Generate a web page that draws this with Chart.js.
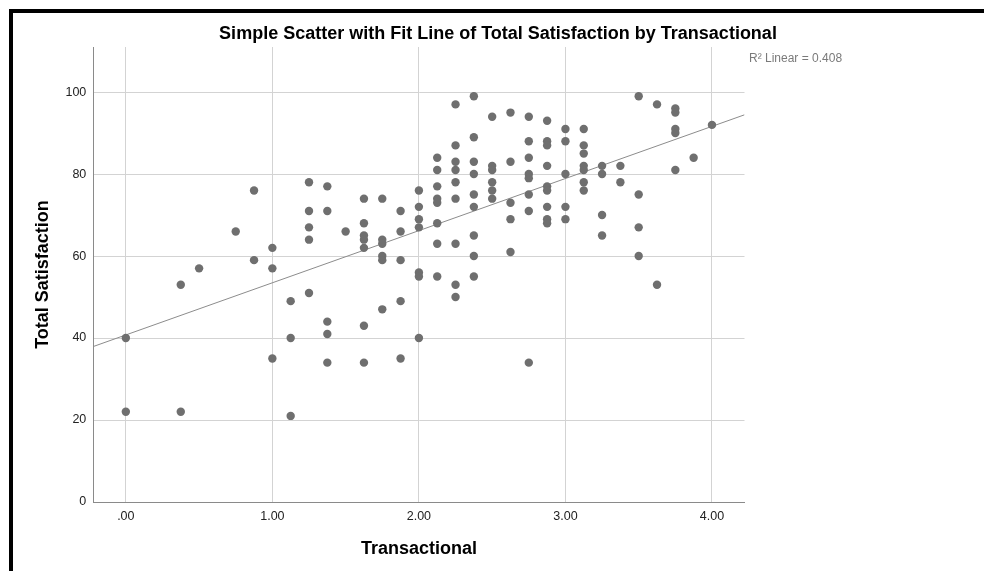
<!DOCTYPE html>
<html>
<head>
<meta charset="utf-8">
<script src="https://cdn.jsdelivr.net/npm/chart.js@4/dist/chart.umd.min.js"></script>
<style>
    body { margin: 0; background: #fff; }
    #wrap { position: relative; width: 984px; height: 571px; overflow: hidden; }
    #frame { position: absolute; left: 9px; top: 9px; width: 1000px; height: 600px;
             border-left: 4px solid #000; border-top: 4px solid #000; }
    #box { position: absolute; left: 0; top: 0; width: 984px; height: 571px; }
</style>
</head>
<body>
<div id="wrap">
    <div id="frame"></div>
    <div id="box"><canvas id="scatterChart"></canvas></div>
</div>
<script>
// Transactional score levels (x) and the Total Satisfaction values seen at each level (y)
const transactionalLevels = [0, 0.375, 0.5, 0.75, 0.875, 1.0, 1.125, 1.25, 1.375, 1.5,
    1.625, 1.75, 1.875, 2.0, 2.125, 2.25, 2.375, 2.5, 2.625, 2.75,
    2.875, 3.0, 3.125, 3.25, 3.375, 3.5, 3.625, 3.75, 3.875, 4.0];
const satisfactionByLevel = [
    [40, 22], [53, 22], [57], [66], [76, 59], [62, 57, 35], [49, 40, 21],
    [78, 71, 67, 64, 51], [77, 71, 44, 41, 34], [66],
    [74, 68, 65, 64, 62, 43, 34], [74, 64, 63, 60, 59, 47], [71, 66, 59, 49, 35],
    [76, 72, 69, 67, 56, 55, 40], [84, 81, 77, 74, 73, 68, 63, 55],
    [97, 87, 83, 81, 78, 74, 63, 53, 50], [99, 89, 83, 80, 75, 72, 65, 60, 55],
    [94, 82, 81, 78, 76, 74], [95, 83, 73, 69, 61], [94, 88, 84, 80, 79, 75, 71, 34],
    [93, 88, 87, 82, 77, 76, 72, 69, 68], [91, 88, 80, 72, 69],
    [91, 87, 85, 82, 81, 78, 76], [82, 80, 70, 65], [82, 78], [99, 75, 67, 60],
    [97, 53], [96, 95, 91, 90, 81], [84], [92]
];

const xTicks = [0, 1, 2, 3, 4];
const xTickLabels = ['.00', '1.00', '2.00', '3.00', '4.00'];
const yTicks = [0, 20, 40, 60, 80, 100];

const chartTitle = 'Simple Scatter with Fit Line of Total Satisfaction by Transactional';
const fitLabel = 'R\u00B2 Linear = 0.408';

const X_MIN = -0.222, X_MAX = 4.222;
const Y_MIN = 0, Y_MAX = 111;

// flatten into points
const points = [];
transactionalLevels.forEach((x, i) => {
    satisfactionByLevel[i].forEach(y => points.push({ x: x, y: y }));
});

// least squares fit line
function linearFit(pts) {
    const n = pts.length;
    let sx = 0, sy = 0, sxx = 0, sxy = 0;
    pts.forEach(p => { sx += p.x; sy += p.y; sxx += p.x * p.x; sxy += p.x * p.y; });
    const slope = (n * sxy - sx * sy) / (n * sxx - sx * sx);
    const intercept = (sy - slope * sx) / n;
    return { slope, intercept };
}
const fit = linearFit(points);
const fitPoints = [X_MIN, X_MAX].map(x => ({ x: x, y: fit.intercept + fit.slope * x }));

const FONT = 'Arial, "Liberation Sans", sans-serif';

// title and R2 note drawn on the canvas
const extraText = {
    id: 'extraText',
    afterDraw(chart) {
        const ctx = chart.ctx;
        ctx.save();
        ctx.textBaseline = 'alphabetic';
        ctx.fillStyle = '#000';
        ctx.textAlign = 'center';
        ctx.font = 'bold 18px ' + FONT;
        ctx.fillText(chartTitle, 498, 39);
        ctx.fillStyle = '#7a7a7a';
        ctx.textAlign = 'left';
        ctx.font = '12px ' + FONT;
        ctx.fillText(fitLabel, 749, 62);
        ctx.restore();
    }
};

const ctx = document.getElementById('scatterChart').getContext('2d');
new Chart(ctx, {
    type: 'scatter',
    data: {
        datasets: [{
            label: 'Total Satisfaction',
            data: points,
            backgroundColor: '#6f6f6f',
            borderWidth: 0,
            pointRadius: 4.2,
            order: 1
        }, {
            type: 'line',
            label: 'Fit',
            data: fitPoints,
            borderColor: '#8c8c8c',
            borderWidth: 1,
            pointRadius: 0,
            fill: false,
            order: 2
        }]
    },
    options: {
        responsive: true,
        maintainAspectRatio: false,
        animation: false,
        layout: { padding: { top: 47, right: 239.5, bottom: 0, left: 0 } },
        plugins: {
            legend: { display: false },
            tooltip: { enabled: false }
        },
        scales: {
            x: {
                type: 'linear',
                min: X_MIN,
                max: X_MAX,
                afterBuildTicks: scale => { scale.ticks = xTicks.map(v => ({ value: v })); },
                afterFit: scale => { scale.height = 69; },
                ticks: {
                    padding: 7,
                    color: '#222',
                    font: { family: FONT, size: 12.5 },
                    callback: (value, index) => xTickLabels[index]
                },
                grid: { color: '#d3d3d3', lineWidth: 1, drawTicks: false },
                border: { display: true, color: '#8a8a8a', width: 1 },
                title: {
                    display: true,
                    text: 'Transactional',
                    color: '#000',
                    font: { family: FONT, size: 18, weight: 'bold' },
                    padding: { top: 0, bottom: 11.4 }
                }
            },
            y: {
                min: Y_MIN,
                max: Y_MAX,
                afterBuildTicks: scale => { scale.ticks = yTicks.map(v => ({ value: v })); },
                afterFit: scale => { scale.width = 93.3; },
                ticks: {
                    padding: 7,
                    color: '#222',
                    font: { family: FONT, size: 12.5 },
                    callback: value => String(value)
                },
                grid: { color: '#d3d3d3', lineWidth: 1, drawTicks: false },
                border: { display: true, color: '#8a8a8a', width: 1 },
                title: {
                    display: true,
                    text: 'Total Satisfaction',
                    color: '#000',
                    font: { family: FONT, size: 18, weight: 'bold' },
                    padding: { top: 32, bottom: 0 }
                }
            }
        }
    },
    plugins: [extraText]
});
</script>
</body>
</html>
